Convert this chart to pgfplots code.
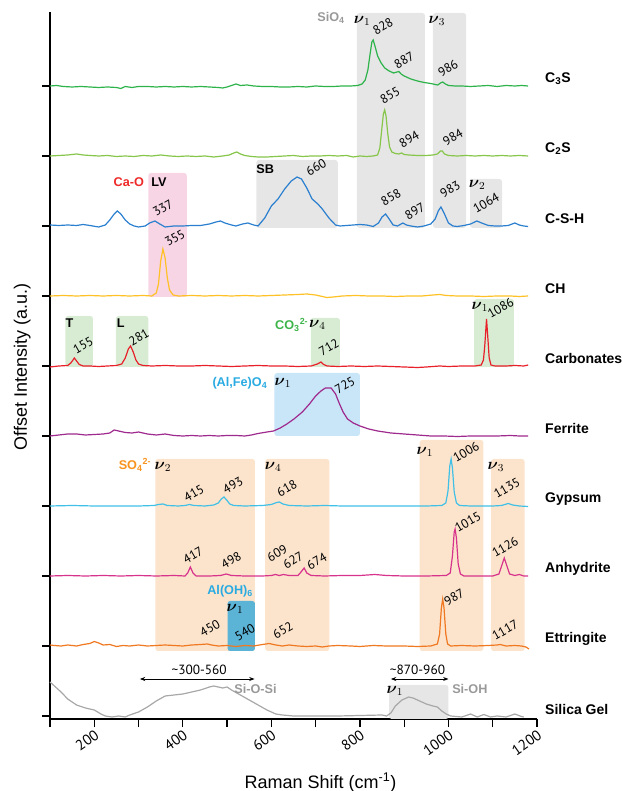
\documentclass[border=0pt]{standalone}
\usepackage{pgfplots}
\pgfplotsset{compat=1.18}
\usepackage{amsmath}
\usepackage{fontspec}
\setmainfont{Liberation Sans}
\newfontfamily\pkfont{PT Sans}
\usetikzlibrary{arrows.meta}
\definecolor{cA}{HTML}{2DB34A}
\definecolor{cB}{HTML}{86C64A}
\definecolor{cC}{HTML}{2A7FCF}
\definecolor{cD}{HTML}{FFC125}
\definecolor{cE}{HTML}{E8202A}
\definecolor{cF}{HTML}{9E2A8E}
\definecolor{cG}{HTML}{40C0E6}
\definecolor{cH}{HTML}{D8338C}
\definecolor{cI}{HTML}{F07820}
\definecolor{cJ}{HTML}{A8A8A8}
\definecolor{bgray}{HTML}{E6E6E6}
\definecolor{bpink}{HTML}{F8D5E5}
\definecolor{bgreen}{HTML}{D8ECD3}
\definecolor{bblue}{HTML}{C9E5F8}
\definecolor{borange}{HTML}{FCE4CC}
\definecolor{bteal}{HTML}{5BB3D6}
\definecolor{lgray}{HTML}{999999}
\definecolor{lred}{HTML}{EE2A2A}
\definecolor{lgreen}{HTML}{3CB44A}
\definecolor{lblue}{HTML}{29ABE2}
\definecolor{lorange}{HTML}{F7931E}
\begin{document}
\begin{tikzpicture}[
  pk/.style={rotate=30, font=\pkfont\fontsize{9.5}{10}\selectfont, inner sep=0pt},
  ch/.style={font=\bfseries\fontsize{9.5}{11}\selectfont, inner sep=0pt},
  nu/.style={font=\fontsize{11.5}{12}\selectfont, inner sep=0pt},
  nm/.style={font=\bfseries\fontsize{10.5}{12}\selectfont, anchor=west, inner sep=0pt},
]
\begin{axis}[
  name=ax, scale only axis, width=365.25pt, height=530.25pt,
  xmin=100, xmax=1200, ymin=-3, ymax=704,
  axis x line*=bottom, axis y line*=left,
  xtick={200,400,...,1200},
  minor xtick={100,300,...,1100},
  ytick={0,70,140,210,280,350,420,490,560,630}, yticklabels={},
  tick align=outside, major tick length=6pt, minor tick length=6pt,
  tick style={black, line width=0.9pt},
  minor tick style={black, line width=0.9pt},
  axis line style={black, line width=0.9pt},
  xticklabel style={rotate=35, anchor=north east, font=\pkfont\fontsize{11}{12}\selectfont, inner sep=1pt},
  xticklabel={\pgfmathprintnumber[fixed, 1000 sep={}]{\tick}},
  clip=false,
  /pgf/number format/assume math mode=true,
  every axis plot/.append style={line width=0.9pt},
]
% boxes
\fill[bgray, rounded corners=2pt] (axis cs:793,488) rectangle (axis cs:947,703);
\fill[bgray, rounded corners=2pt] (axis cs:965,488) rectangle (axis cs:1040,703);
\fill[bgray, rounded corners=2pt] (axis cs:1049,488) rectangle (axis cs:1121,537);
\fill[bgray, rounded corners=2pt] (axis cs:566,488) rectangle (axis cs:750,556);
\fill[bpink, rounded corners=2pt] (axis cs:322,419) rectangle (axis cs:409,543);
\fill[bgreen, rounded corners=2pt] (axis cs:135,349) rectangle (axis cs:197,400);
\fill[bgreen, rounded corners=2pt] (axis cs:249,349) rectangle (axis cs:322,400);
\fill[bgreen, rounded corners=2pt] (axis cs:689,349) rectangle (axis cs:755,398);
\fill[bgreen, rounded corners=2pt] (axis cs:1058,349) rectangle (axis cs:1148,417);
\fill[bblue, rounded corners=2pt] (axis cs:607,280) rectangle (axis cs:800,343);
\fill[borange, rounded corners=2pt] (axis cs:338,65) rectangle (axis cs:563,257);
\fill[borange, rounded corners=2pt] (axis cs:586,65) rectangle (axis cs:731,257);
\fill[borange, rounded corners=2pt] (axis cs:935,65) rectangle (axis cs:1079,276);
\fill[borange, rounded corners=2pt] (axis cs:1096,65) rectangle (axis cs:1172,257);
\fill[bteal, rounded corners=2pt] (axis cs:501,65) rectangle (axis cs:563,115);
\fill[bgray, rounded corners=2pt] (axis cs:866,-3) rectangle (axis cs:1000,31);

% C3S
\addplot[cA] table[x index=0, y expr=\thisrowno{1}+630] {
100 0
115 0.5
130 -0.5
150 -1
170 -0.5
190 -1
210 -1.5
230 -1
250 -1.5
260 -2.5
270 -0.5
285 -1.5
300 -0.5
320 -0.5
340 -1
360 -0.5
380 -1
400 -0.5
420 -1
440 -0.5
460 -1
480 -1.5
490 -2
500 -1
510 0.5
520 2
530 0.5
545 1
560 0
580 -0.5
600 -0.5
620 -1
640 -1
660 -0.5
680 -1
700 0
720 -0.5
740 -0.5
760 0
780 0
795 0.5
805 2
812 6
818 16
823 32
827 44
830 46
834 40
840 30
848 23
856 18
866 15
876 13
884 14
888 14.5
893 12
900 10
915 7
930 5
945 3.5
960 2.5
970 1.5
976 1
982 3
987 4
993 2
1000 0.5
1015 0
1030 0
1050 -0.5
1070 0
1090 0.5
1110 -0.5
1130 0.5
1150 0
1165 0.5
1180 0
};
% C2S
\addplot[cB] table[x index=0, y expr=\thisrowno{1}+560] {
100 0
120 0.5
140 1
160 2
175 1
190 0.5
210 0
230 0.5
250 -0.5
270 0
290 -0.5
310 0.5
330 0
350 1
370 0
390 -0.5
410 0
430 -0.5
450 0
470 -1
490 0
505 1
515 3
522 4
530 2
540 0.5
555 -0.5
570 -1
590 -1
610 -0.5
630 0
650 0.5
670 -0.5
690 0
710 0
730 0.5
750 0
770 0.5
785 -1
800 0
815 -0.5
830 0
840 1
845 8
849 25
853 42
856 46
859 40
863 22
867 9
872 4
880 2.5
888 2
894 3
900 1.5
910 1
930 0.5
950 0.5
965 1
975 2
982 5
986 5
991 2
1000 0.5
1020 0
1040 0.5
1060 0
1080 0.5
1100 0
1120 0.5
1140 0
1160 0.5
1180 0
};
% CSH
\addplot[cC] table[x index=0, y expr=\thisrowno{1}+490] {
100 1
120 0.5
140 1
160 0.5
175 1.5
190 0.5
210 -1
225 1
235 6
245 12
252 15
260 12
270 6
280 2
290 0
300 -1
315 0
325 3
337 5
348 2
360 -1
380 0
400 0
420 0.5
440 0.5
460 2
475 4
485 5
495 3
510 1
520 0
535 2
547 3
560 1
570 0
585 8
600 20
615 27
630 37
645 45
658 49
668 47
680 38
692 27
705 22
715 17
730 8
745 1
755 0
770 0.5
785 1
800 1.5
815 1
830 -0.5
842 3
850 9
858 12
866 7
875 1
885 0
897 3
905 1
915 0
930 -1
945 0
960 2
970 7
977 15
983 19
990 13
1000 3
1010 0
1020 -0.5
1035 0.5
1050 2
1064 5
1075 3
1090 0.5
1105 0
1120 0
1135 0.5
1150 3
1160 1
1170 0
1180 -0.5
};
% CH
\addplot[cD] table[x index=0, y expr=\thisrowno{1}+420] {
100 0
130 0.5
160 0
190 0.5
220 0
250 0.5
280 0
310 0.5
330 0
340 3
345 12
350 35
355 47
360 38
365 18
370 6
378 1
390 0
420 0.5
450 0
480 0.5
510 0
540 0.5
570 0
600 0.5
630 1
660 1.5
680 2
700 1
715 -0.5
725 -1.5
740 -1
760 0
790 0.5
820 0
850 0
880 -0.5
910 0
940 0
965 1
980 1.5
995 0.5
1020 0
1050 0
1080 -0.5
1110 0
1140 0
1160 -0.5
1180 0
};
% Carbonates
\addplot[cE] table[x index=0, y expr=\thisrowno{1}+350] {
100 -1
120 0
140 0.5
147 3
152 6
155 8
160 5
166 1.5
175 0
190 0
210 -0.5
230 0
250 0.5
262 2
270 8
277 17
282 20
288 14
294 6
300 2
310 0.5
330 0
360 0.5
390 0
420 0
450 0.5
480 0
510 -0.5
540 0
570 0.5
600 0
630 0
660 -0.5
690 0
704 2
712 4
718 1.5
726 0
750 -0.5
780 0
810 -0.5
840 0
870 -0.5
900 -1
930 -1.5
950 -1
980 0
1000 -0.5
1030 0
1060 0
1074 1
1079 6
1082 20
1086 47
1089 28
1092 8
1096 1
1105 0
1130 0
1150 0.5
1170 0
1180 1
};
% Ferrite
\addplot[cF] table[x index=0, y expr=\thisrowno{1}+280] {
100 0
120 1
140 2
160 2
180 1
200 1.5
220 2
235 3
245 6
255 5
270 3.5
285 3
300 4
320 2
340 1
360 2
380 0.5
400 0
420 0.5
440 0
460 0.5
480 0
500 0.5
520 0.5
540 0
555 1
570 2.5
590 4
605 5
620 8
635 12
651 17
670 24
686 32
700 40
712 45
722 48
735 48
745 42
753 33
762 24
772 17
785 13
800 10
820 7
840 5
870 3
900 2
930 1
960 0
990 0
1020 -0.5
1050 0
1080 0
1110 0
1140 0.5
1160 0
1180 0
};
% Gypsum
\addplot[cG] table[x index=0, y expr=\thisrowno{1}+210] {
100 0
150 0.5
200 0
250 0
300 0
335 0.5
345 1.5
355 2
365 0.5
390 0
405 0.5
415 1.5
425 0.5
450 0
470 1
480 3
487 7
493 9
499 6
506 2
515 0.5
540 0
580 0.5
600 1.5
612 3.5
618 4
626 2
640 0.5
680 0
720 0.5
760 0
800 0
850 0
900 0
950 0
985 0.5
994 3
999 15
1003 40
1006 47
1009 38
1013 14
1018 3
1025 0.5
1050 0
1100 0
1120 0.5
1135 2.5
1145 1
1160 0
1180 -0.5
};
% Anhydrite
\addplot[cH] table[x index=0, y expr=\thisrowno{1}+140] {
100 0
140 0.5
180 0
220 0.5
260 0
300 0.5
340 0
380 0.5
405 0
411 3
417 9
423 3
430 0
460 0
485 0.5
498 2
510 0.5
540 0
580 0
600 0.5
609 1.5
618 0.5
627 1.5
640 0.5
660 0.5
667 4
674 8
680 3
690 0.5
720 0
760 0.5
800 0.5
834 1.5
860 0.5
900 0
950 0
995 0.5
1004 3
1009 20
1013 44
1015 47
1018 38
1022 12
1027 2
1035 0
1070 0
1100 0
1114 2
1120 10
1126 18
1132 10
1138 2
1150 0.5
1160 1.5
1170 0
1180 0
};
% Ettringite
\addplot[cI] table[x index=0, y expr=\thisrowno{1}+70] {
100 1
110 0.5
125 0
140 1
160 0
175 1.5
190 2.5
200 4.5
210 3
220 1
235 1.5
250 -0.5
265 0.5
280 0
300 1
320 0
340 0.5
360 1
380 0.5
400 0
420 1
440 1.5
455 2
465 1
480 0
500 0.5
520 -0.5
540 0.5
560 0
580 1.5
595 2.5
610 1
625 0
640 1
660 0
680 -0.5
700 0
715 -1
730 0
750 0.5
780 0
800 -0.5
830 0.5
860 0
900 0
930 -0.5
960 0
975 2
980 12
984 38
987 47
990 38
994 12
998 2
1005 0
1030 0.5
1060 0
1090 0.5
1110 1
1117 1.5
1130 0
1150 0.5
1165 0
1175 -1
1182 -3
};
% Silica gel
\addplot[cJ] table[x index=0, y expr=\thisrowno{1}+0] {
100 34
110 30
125 24
140 17
160 11
180 8
200 6
215 2
225 0
240 -1
255 0
270 -1
280 1
300 4
320 9
340 15
360 20
380 21
400 22
420 24
440 26
460 29
470 30
480 29
490 28
500 29
510 26
530 21
550 16
570 11
590 6
610 2
625 1
650 0
700 0
750 0
800 0.5
850 1
860 0
870 3
880 10
895 16
910 19
920 18
935 15
950 12
965 10
975 9
985 5
995 2
1005 0
1030 -1
1050 2
1065 -1
1080 1.5
1095 -1
1110 0
1130 -1
1150 2
1165 -0.5
1170 -1
};

% arrows
\draw[{Stealth[length=4pt,width=3pt]}-{Stealth[length=4pt,width=3pt]}, line width=0.6pt] (axis cs:303,37) -- (axis cs:562,37);
\draw[{Stealth[length=4pt,width=3pt]}-{Stealth[length=4pt,width=3pt]}, line width=0.6pt] (axis cs:870,37) -- (axis cs:1000,37);

% peak labels
\node[pk] at (axis cs:852,690) {828};
\node[pk] at (axis cs:900,656) {887};
\node[pk] at (axis cs:999,648) {986};
\node[pk] at (axis cs:868,621) {855};
\node[pk] at (axis cs:911,577) {894};
\node[pk] at (axis cs:1010,579) {984};
\node[pk] at (axis cs:701,549) {660};
\node[pk] at (axis cs:355,508) {337};
\node[pk] at (axis cs:870,519) {858};
\node[pk] at (axis cs:924,505) {897};
\node[pk] at (axis cs:1004,527) {983};
\node[pk] at (axis cs:1085,513) {1064};
\node[pk] at (axis cs:382,478) {355};
\node[pk] at (axis cs:175,371) {155};
\node[pk] at (axis cs:301,379) {281};
\node[pk] at (axis cs:730,369) {712};
\node[pk] at (axis cs:1118,408) {1086};
\node[pk] at (axis cs:766,331) {725};
\node[pk] at (axis cs:425,223) {415};
\node[pk] at (axis cs:513,231) {493};
\node[pk] at (axis cs:635,228) {618};
\node[pk] at (axis cs:1040,264) {1006};
\node[pk] at (axis cs:1132,228) {1135};
\node[pk] at (axis cs:423,161) {417};
\node[pk] at (axis cs:509,156) {498};
\node[pk] at (axis cs:613,163) {609};
\node[pk] at (axis cs:649,156) {627};
\node[pk] at (axis cs:703,155) {674};
\node[pk] at (axis cs:1044,194) {1015};
\node[pk] at (axis cs:1128,169) {1126};
\node[pk] at (axis cs:1013,119) {987};
\node[pk] at (axis cs:461,88) {450};
\node[pk] at (axis cs:540,84) {540};
\node[pk] at (axis cs:626,86) {652};
\node[pk] at (axis cs:1128,86) {1117};

% nu labels
\node[nu] at (axis cs:805,695) {$\boldsymbol{\nu}_{1}$};
\node[nu] at (axis cs:974,695) {$\boldsymbol{\nu}_{3}$};
\node[nu] at (axis cs:1065,531) {$\boldsymbol{\nu}_{2}$};
\node[nu] at (axis cs:704,391) {$\boldsymbol{\nu}_{4}$};
\node[nu] at (axis cs:1071,409) {$\boldsymbol{\nu}_{1}$};
\node[nu] at (axis cs:626,333) {$\boldsymbol{\nu}_{1}$};
\node[nu] at (axis cs:355,249) {$\boldsymbol{\nu}_{2}$};
\node[nu] at (axis cs:604,249) {$\boldsymbol{\nu}_{4}$};
\node[nu] at (axis cs:947,264) {$\boldsymbol{\nu}_{1}$};
\node[nu] at (axis cs:1107,249) {$\boldsymbol{\nu}_{3}$};
\node[nu] at (axis cs:518,107) {$\boldsymbol{\nu}_{1}$};
\node[nu] at (axis cs:879,25) {$\boldsymbol{\nu}_{1}$};

% chemistry labels
\node[ch, text=lgray] at (axis cs:735,698) {SiO\textsubscript{4}};
\node[ch, text=lred] at (axis cs:278,534) {Ca-O};
\node[ch] at (axis cs:346,534) {LV};
\node[ch] at (axis cs:586,547) {SB};
\node[ch] at (axis cs:144,393) {T};
\node[ch] at (axis cs:260,393) {L};
\node[ch, text=lgreen] at (axis cs:646,391) {CO\textsubscript{3}\textsuperscript{2-}};
\node[ch, text=lblue] at (axis cs:529,333) {(Al,Fe)O\textsubscript{4}};
\node[ch, text=lorange] at (axis cs:292,251) {SO\textsubscript{4}\textsuperscript{2-}};
\node[ch, text=lblue] at (axis cs:507,125) {Al(OH)\textsubscript{6}};
\node[ch, text=lgray, anchor=west] at (axis cs:516,27) {Si-O-Si};
\node[ch, text=lgray, anchor=west] at (axis cs:1008,27) {Si-OH};
\node[font=\pkfont\fontsize{10}{10}\selectfont] at (axis cs:437,46) {\textasciitilde300-560};
\node[font=\pkfont\fontsize{10}{10}\selectfont] at (axis cs:930,46) {\textasciitilde870-960};

% sample names
\node[nm] at (axis cs:1218,637) {C\textsubscript{3}S};
\node[nm] at (axis cs:1218,567) {C\textsubscript{2}S};
\node[nm] at (axis cs:1218,497) {C-S-H};
\node[nm] at (axis cs:1218,427) {CH};
\node[nm] at (axis cs:1218,357) {Carbonates};
\node[nm] at (axis cs:1218,287) {Ferrite};
\node[nm] at (axis cs:1218,217) {Gypsum};
\node[nm] at (axis cs:1218,147) {Anhydrite};
\node[nm] at (axis cs:1218,77) {Ettringite};
\node[nm] at (axis cs:1218,7) {Silica Gel};

% axis labels
\node[font=\fontsize{13.5}{15}\selectfont, rotate=90] at (axis cs:37,349) {Offset Intensity (a.u.)};
\node[font=\fontsize{13.5}{15}\selectfont] at (axis cs:711,-67) {Raman Shift (cm\textsuperscript{-1})};
\end{axis}
\pgfresetboundingbox
\path ([shift={(-37.5pt,-54pt)}]ax.south west) rectangle ([shift={(63.75pt,9pt)}]ax.north east);
\end{tikzpicture}
\end{document}
